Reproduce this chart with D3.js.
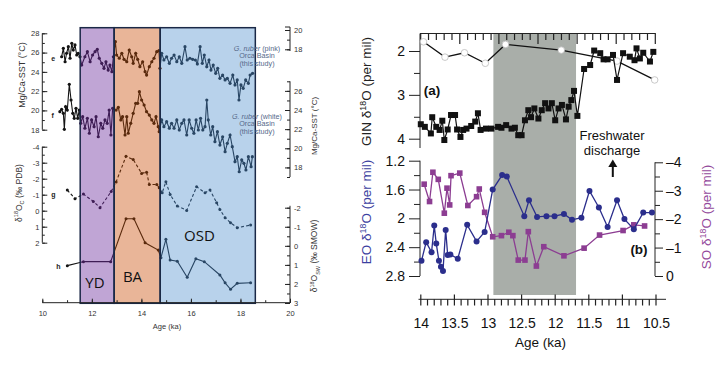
<!DOCTYPE html>
<html>
<head>
<meta charset="utf-8">
<script src="https://cdn.jsdelivr.net/npm/d3@7"></script>
<style>
body { margin: 0; background: #fff; }
svg { display: block; }
</style>
</head>
<body>
<script>
// ---- left figure: Orca Basin records, [age ka, value] ----
var pinkSst = [[10.78,25.57],[10.85,26.44],[10.92,25.05],[10.98,25.93],[11.05,26.61],[11.12,25.41],[11.19,26.96],[11.25,26.27],[11.32,26.79],[11.39,25.75],[11.45,25.93],[11.52,25.57],
  [11.59,24.71],[11.72,25.57],[11.82,26.09],[11.93,25.05],[12.03,25.75],[12.13,26.09],[12.22,26.34],[12.30,25.41],[12.40,24.89],[12.49,24.37],[12.57,25.05],[12.66,24.19],[12.73,24.71],[12.81,24.02],[12.87,25.57],
  [12.95,27.13],[13.00,25.75],[13.11,25.41],[13.21,25.93],[13.30,25.30],[13.41,25.05],[13.51,26.27],[13.61,25.57],[13.67,24.89],[13.77,25.93],[13.85,25.30],[13.94,24.54],[14.05,25.05],[14.15,24.02],[14.21,23.67],[14.32,24.54],[14.42,25.05],[14.51,25.41],[14.62,26.09],[14.71,26.20],[14.75,24.37],
  [14.82,25.93],[14.91,25.23],[15.02,25.57],[15.13,24.89],[15.22,25.41],[15.32,25.75],[15.43,25.05],[15.53,25.57],[15.63,24.89],[15.76,26.61],[15.85,25.23],[15.96,25.41],[16.07,25.30],[16.18,25.23],[16.26,24.82],[16.37,26.61],[16.46,24.89],[16.54,25.75],[16.64,24.54],[16.73,25.23],[16.81,24.19],[16.90,24.71],[17.00,23.85],[17.08,24.37],[17.17,23.33],[17.28,23.67],[17.38,23.16],[17.47,23.33],[17.58,22.81],[17.69,23.67],[17.78,22.64],[17.87,23.16],[17.94,21.08],[18.02,22.64],[18.11,22.29],[18.21,23.16],[18.32,22.81],[18.39,23.67],[18.49,23.85]];

var whiteSst = [[10.71,19.87],[10.78,20.12],[10.85,19.70],[10.89,18.04],[10.94,20.39],[11.01,20.04],[11.09,22.71],[11.16,21.08],[11.23,19.70],[11.29,19.18],[11.36,20.22],[11.43,19.18],[11.49,20.04],
  [11.55,18.66],[11.63,19.35],[11.72,18.15],[11.82,19.18],[11.90,17.63],[11.99,19.01],[12.09,18.31],[12.17,19.35],[12.26,17.27],[12.36,18.66],[12.44,18.15],[12.53,19.01],[12.62,18.66],[12.70,20.04],[12.77,17.45],[12.84,20.22],
  [12.98,20.04],[13.07,20.32],[13.17,19.01],[13.24,19.35],[13.34,17.45],[13.41,19.35],[13.47,17.63],[13.57,18.66],[13.67,19.70],[13.77,20.74],[13.85,20.74],[13.92,21.94],[14.01,21.08],[14.11,20.56],[14.21,19.87],[14.32,19.52],[14.42,19.01],[14.51,18.66],[14.59,19.35],[14.68,18.31],[14.72,17.79],
  [14.82,19.01],[14.91,18.31],[15.02,18.83],[15.13,18.15],[15.22,18.66],[15.32,18.15],[15.43,19.01],[15.53,17.97],[15.63,18.66],[15.72,19.01],[15.83,17.45],[15.93,19.01],[16.03,18.15],[16.12,17.63],[16.21,19.01],[16.30,17.97],[16.39,19.18],[16.48,17.97],[16.57,18.31],[16.64,21.08],[16.70,19.01],[16.80,17.45],[16.88,18.31],[16.97,16.76],[17.07,17.79],[17.17,16.41],[17.28,17.27],[17.38,15.72],[17.47,16.59],[17.58,17.45],[17.67,16.24],[17.78,14.68],[17.87,15.20],[17.95,13.64],[18.05,14.86],[18.14,14.51],[18.22,13.82],[18.32,15.20],[18.43,14.16],[18.48,15.20]];

var d18Oc = [[11.01,-1.29],[11.32,-0.75],[11.66,-1.04],[12.06,-0.58],[12.33,-0.19],[12.78,-1.2],[12.98,-1.8],[13.38,-3.4],[13.67,-3.2],[14.01,-2.33],[14.21,-2.41],[14.32,-1.64],[14.62,-1.64],[14.72,-1.44],
  [14.84,-1.12],[14.99,-1.81],[15.16,-1.02],[15.45,-0.29],[15.83,-0.02],[16.23,-1.5],[16.57,-1.12],[16.77,-1.29],[17.04,-0.5],[17.17,-0.08],[17.38,0.44],[17.6,0.75],[17.87,1.06],[18.41,0.9]];

var d18Osw = [[11.01,1.04],[11.66,0.83],[12.76,0.83],[13.38,-1.42],[13.7,-1.42],[14.15,-0.16],[14.68,0.22],
  [14.79,0.62],[14.99,-0.34],[15.16,0.74],[15.45,0.81],[15.85,1.65],[16.2,0.68],[16.54,0.83],[17.17,1.53],[17.38,1.94],[17.6,2.28],[17.87,1.97],[18.41,1.94]];

var zoneEdges = [10, 11.53, 12.9, 14.76, 20];
var bandEdges = [11.53, 12.9, 14.76, 18.6];
var bandNames = ["YD", "BA", "OSD"];

// ---- right figure: GIN / EO / SO d18O ----
var ginOpen = [[13.96,1.79],[13.64,2.14],[13.35,2.04],[13.04,2.28],[12.74,1.85],[11.91,1.98],[11.08,2.23],[10.52,2.66]];

var ginBlack = [[14.0,3.67],[13.94,3.73],[13.85,3.88],[13.83,3.51],[13.77,3.73],[13.72,3.80],[13.68,3.59],[13.65,4.03],[13.60,3.79],[13.55,3.46],[13.49,3.46],[13.46,3.79],[13.41,3.96],[13.37,3.80],[13.32,3.77],[13.25,3.71],[13.19,3.61],[13.15,3.42],[13.11,3.80],[13.03,3.77],
  [12.95,3.77],[12.85,3.73],[12.80,3.75],[12.73,3.69],[12.65,3.77],[12.60,3.75],[12.55,3.92],[12.50,3.92],[12.45,3.58],[12.40,3.35],[12.36,3.51],[12.31,3.31],[12.25,3.54],[12.20,3.35],[12.15,3.19],[12.10,3.31],[12.05,3.19],[12.00,3.58],[11.95,3.31],[11.90,3.23],
  [11.84,3.56],[11.80,3.27],[11.76,3.12],[11.72,2.91],[11.67,3.48],[11.57,2.41],[11.48,2.32],[11.42,1.99],[11.33,2.05],[11.28,2.19],[11.22,2.19],[11.14,2.09],[11.08,2.66],[10.99,2.05],[10.89,2.13],[10.82,2.21],[10.79,1.94],[10.74,2.17],[10.69,2.04],[10.59,2.24],[10.54,2.02]];

var eoBlue = [[13.99,2.59],[13.92,2.33],[13.84,2.47],[13.80,2.10],[13.77,2.35],[13.73,2.59],[13.70,2.67],[13.67,2.73],[13.63,2.16],[13.60,2.51],[13.56,2.50],[13.45,2.56],[13.31,2.09],[13.17,2.32],[13.05,2.19],
  [12.93,1.60],[12.79,1.40],[12.72,1.42],[12.46,1.97],[12.39,1.75],[12.27,1.98],[12.13,1.97],[12.01,1.97],[11.87,1.94],[11.75,2.02],[11.61,1.99],[11.49,1.62],[11.35,1.85],[11.22,2.12],[11.08,1.75],[10.97,2.01],[10.83,2.15],[10.69,1.92],[10.56,1.92]];

var soPurple = [[13.95,-3.23],[13.87,-2.62],[13.82,-3.65],[13.74,-3.40],[13.65,-2.21],[13.61,-3.09],[13.57,-2.50],[13.55,-3.53],[13.42,-3.62],[13.30,-2.48],[13.17,-2.79],[13.13,-3.06],[13.05,-2.24],
  [12.93,-1.38],[12.80,-1.42],[12.69,-1.54],[12.63,-1.42],[12.55,-0.56],[12.45,-0.56],[12.40,-1.56],[12.28,-0.35],[12.17,-1.03],[11.87,-0.71],[11.57,-0.98],[11.34,-1.44],[10.99,-1.60],[10.83,-1.80],[10.67,-1.76]];

var shadeAges = [12.92, 11.69];
var ageTickLabels = ["14", "13.5", "13", "12.5", "12", "11.5", "11", "10.5"];

var font = "'Liberation Sans', Arial, sans-serif";
var plain = d => String(d);

var svg = d3.select("body").append("svg")
  .attr("width", 724)
  .attr("height", 367)
  .attr("font-family", font);
var defs = svg.append("defs");

function drawAxis(axis, tx, ty, size, color) {
  var g = svg.append("g").attr("transform", `translate(${tx},${ty})`).call(axis);
  g.select(".domain").remove();
  g.attr("font-family", font).attr("font-size", size);
  g.selectAll("text").attr("fill", color);
  g.selectAll("line").attr("stroke", "#222");
  return g;
}
function vline(x, y1, y2) {
  svg.append("line").attr("x1", x).attr("x2", x).attr("y1", y1).attr("y2", y2)
    .attr("stroke", "#222").attr("stroke-width", 1);
}
function hline(y, x1, x2) {
  svg.append("line").attr("x1", x1).attr("x2", x2).attr("y1", y).attr("y2", y)
    .attr("stroke", "#222").attr("stroke-width", 1);
}
// text with a raised "18", and optional subscript after the O
function isoText(g, pre, sub, post, size) {
  var t = g.append("text");
  t.append("tspan").text(pre);
  t.append("tspan").attr("dy", -size * 0.4).attr("font-size", size * 0.65).text("18");
  t.append("tspan").attr("dy", size * 0.4).text("O");
  if (sub) {
    t.append("tspan").attr("dy", size * 0.3).attr("font-size", size * 0.65).text(sub);
    t.append("tspan").attr("dy", -size * 0.3).text(post);
  } else {
    t.append("tspan").text(post);
  }
  return t;
}

// ================= LEFT FIGURE =================
var xL = d3.scaleLinear().domain([10, 20]).range([42.3, 290]);
var ySst = d3.scaleLinear().domain([18, 28]).range([129.7, 33.3]);
var yOc = d3.scaleLinear().domain([-4, 2]).range([146.7, 242.7]);
var ySw = d3.scaleLinear().domain([-2, 3]).range([207.7, 303]);
var yPink = d3.scaleLinear().domain([18, 20]).range([49.3, 30]);
var yWhite = d3.scaleLinear().domain([17, 27]).range([177, 81.3]);

var bandFill = ["#c0a5d5", "#e9b598", "#b8d2eb"];
var zoneCol = ["#141414", "#3e1d55", "#5a2a0d", "#294664"];

var bandTop = 27.7, bandBottom = 303.3;
svg.selectAll(".band")
  .data(bandNames)
  .enter()
  .append("rect")
  .attr("x", (d, i) => xL(bandEdges[i]))
  .attr("y", bandTop)
  .attr("width", (d, i) => xL(bandEdges[i + 1]) - xL(bandEdges[i]))
  .attr("height", bandBottom - bandTop)
  .attr("fill", (d, i) => bandFill[i]);

zoneEdges.slice(0, 4).forEach(function(z, i) {
  defs.append("clipPath").attr("id", "zone" + i)
    .append("rect")
    .attr("x", xL(zoneEdges[i])).attr("y", 0)
    .attr("width", xL(zoneEdges[i + 1]) - xL(zoneEdges[i])).attr("height", 367);
});

function zoneOf(a) {
  for (var i = 0; i < 4; i++) if (a < zoneEdges[i + 1]) return i;
  return 3;
}

function drawSeries(data, y, dash, r) {
  var line = d3.line().x(d => xL(d[0])).y(d => y(d[1]));
  for (var i = 0; i < 4; i++) {
    svg.append("path")
      .datum(data)
      .attr("clip-path", `url(#zone${i})`)
      .attr("d", line)
      .attr("fill", "none")
      .attr("stroke", zoneCol[i])
      .attr("stroke-width", 1.1)
      .attr("stroke-dasharray", dash);
  }
  svg.append("g").selectAll("circle")
    .data(data)
    .enter()
    .append("circle")
    .attr("cx", d => xL(d[0]))
    .attr("cy", d => y(d[1]))
    .attr("r", r)
    .attr("fill", d => zoneCol[zoneOf(d[0])]);
}

drawSeries(pinkSst, ySst, null, 1.6);
drawSeries(whiteSst, ySst, null, 1.6);
drawSeries(d18Oc, yOc, "3,2.2", 1.5);
drawSeries(d18Osw, ySw, null, 1.5);

// band outlines on top
svg.selectAll(".bandEdge")
  .data(bandNames)
  .enter()
  .append("rect")
  .attr("x", (d, i) => xL(bandEdges[i]))
  .attr("y", bandTop)
  .attr("width", (d, i) => xL(bandEdges[i + 1]) - xL(bandEdges[i]))
  .attr("height", bandBottom - bandTop)
  .attr("fill", "none")
  .attr("stroke", "#1b2947")
  .attr("stroke-width", 1.5);

var bandLabelPos = [[95, 288], [132.5, 281.5], [199.5, 241]];
svg.selectAll(".bandName")
  .data(bandNames)
  .enter()
  .append("text")
  .attr("x", (d, i) => bandLabelPos[i][0])
  .attr("y", (d, i) => bandLabelPos[i][1])
  .attr("text-anchor", "middle")
  .attr("font-family", "'Open Sans', 'Noto Sans', sans-serif")
  .attr("font-size", 15)
  .attr("fill", "#111")
  .text(d => d);

// left axes
var tc = "#333";
drawAxis(d3.axisLeft(ySst).tickValues(d3.range(18, 29, 1)).tickSizeInner(-2.5).tickSizeOuter(0).tickFormat(""), xL(10), 0, 7.5, tc);
drawAxis(d3.axisLeft(ySst).tickValues(d3.range(18, 29, 2)).tickSizeInner(-5).tickSizeOuter(0).tickPadding(3).tickFormat(plain), xL(10), 0, 7.5, tc);
vline(xL(10), ySst(28), ySst(18));

drawAxis(d3.axisLeft(yOc).tickValues(d3.range(-4, 2.1, 0.5)).tickSizeInner(-2.5).tickSizeOuter(0).tickFormat(""), xL(10), 0, 7.5, tc);
drawAxis(d3.axisLeft(yOc).tickValues(d3.range(-4, 3, 1)).tickSizeInner(-5).tickSizeOuter(0).tickPadding(3).tickFormat(plain), xL(10), 0, 7.5, tc);
vline(xL(10), yOc(-4), yOc(2));

drawAxis(d3.axisBottom(xL).tickValues(d3.range(10, 21, 1)).tickSizeInner(-2.5).tickSizeOuter(0).tickFormat(""), 0, 302.7, 7.5, tc);
drawAxis(d3.axisBottom(xL).tickValues(d3.range(10, 21, 2)).tickSizeInner(-4).tickSizeOuter(0).tickPadding(8).tickFormat(plain), 0, 302.7, 7.5, tc);
hline(302.7, xL(10), xL(20));

// right side axes of left figure
drawAxis(d3.axisRight(yPink).tickValues([18, 19, 20]).tickSizeInner(-3).tickSizeOuter(0).tickFormat(""), xL(20), 0, 7.5, tc);
drawAxis(d3.axisRight(yPink).tickValues([18, 20]).tickSizeInner(-5).tickSizeOuter(0).tickPadding(4).tickFormat(plain), xL(20), 0, 7.5, tc);
vline(xL(20), 27, 51);
svg.append("line").attr("x1", xL(20) - 5).attr("x2", xL(20)).attr("y1", 27).attr("y2", 27).attr("stroke", "#222");

drawAxis(d3.axisRight(yWhite).tickValues(d3.range(17, 28, 1)).tickSizeInner(-3).tickSizeOuter(0).tickFormat(""), xL(20), 0, 7.5, tc);
drawAxis(d3.axisRight(yWhite).tickValues(d3.range(18, 27, 2)).tickSizeInner(-5).tickSizeOuter(0).tickPadding(4).tickFormat(plain), xL(20), 0, 7.5, tc);
vline(xL(20), yWhite(27), yWhite(17));

drawAxis(d3.axisRight(ySw).tickValues(d3.range(-2, 3.1, 0.5)).tickSizeInner(-3).tickSizeOuter(0).tickFormat(""), xL(20), 0, 7.5, tc);
drawAxis(d3.axisRight(ySw).tickValues(d3.range(-2, 4, 1)).tickSizeInner(-5).tickSizeOuter(0).tickPadding(4).tickFormat(plain), xL(20), 0, 7.5, tc);
vline(xL(20), ySw(-2.1), ySw(3));

// left figure titles and labels
svg.append("text")
  .attr("transform", "translate(24.5,75) rotate(-90)")
  .attr("text-anchor", "middle").attr("font-size", 9).attr("fill", tc)
  .text("Mg/Ca-SST (°C)");
isoText(svg, "δ", "C", " (‰ PDB)", 8.5)
  .attr("transform", "translate(21.5,193) rotate(-90)")
  .attr("text-anchor", "middle").attr("font-size", 8.5).attr("fill", tc);
svg.append("text")
  .attr("transform", "translate(316.5,126) rotate(-90)")
  .attr("text-anchor", "middle").attr("font-size", 8).attr("fill", tc)
  .text("Mg/Ca-SST (°C)");
isoText(svg, "δ", "SW", " (‰ SMOW)", 8.5)
  .attr("transform", "translate(317,256) rotate(-90)")
  .attr("text-anchor", "middle").attr("font-size", 8.5).attr("fill", tc);
svg.append("text")
  .attr("x", 167).attr("y", 329)
  .attr("text-anchor", "middle").attr("font-size", 7.5).attr("fill", tc)
  .text("Age (ka)");

var letters = [["e", 53.3, 61], ["f", 52.7, 118], ["g", 53.5, 196.5], ["h", 58.3, 269]];
svg.selectAll(".letter")
  .data(letters)
  .enter()
  .append("text")
  .attr("x", d => d[1]).attr("y", d => d[2])
  .attr("text-anchor", "middle").attr("font-size", 7).attr("font-weight", "bold").attr("fill", "#222")
  .text(d => d[0]);

function rubberNote(kind, y0) {
  var t = svg.append("g").attr("font-size", 7.2).attr("fill", "#56698a").attr("text-anchor", "middle");
  var l1 = t.append("text").attr("x", 257).attr("y", y0);
  l1.append("tspan").attr("font-style", "italic").text("G. ruber");
  l1.append("tspan").text(" (" + kind + ")");
  t.append("text").attr("x", 257).attr("y", y0 + 7.5).text("Orca Basin");
  t.append("text").attr("x", 257).attr("y", y0 + 15).text("(this study)");
}
rubberNote("pink", 50.5);
rubberNote("white", 118.5);

// ================= RIGHT FIGURE =================
var xR = d3.scaleLinear().domain([14, 10.5]).range([420.8, 656]);
var xTop = d3.scaleLinear().domain([14, 11]).range([420.7, 655.3]);
var yGin = d3.scaleLinear().domain([2, 4]).range([51, 138.7]);
var yEo = d3.scaleLinear().domain([1.2, 2.8]).range([160.7, 276]);
var ySo = d3.scaleLinear().domain([-4, 0]).range([162.3, 276]);

svg.append("rect")
  .attr("x", xR(shadeAges[0]))
  .attr("y", 34)
  .attr("width", xR(shadeAges[1]) - xR(shadeAges[0]))
  .attr("height", 261)
  .attr("fill", "#a9aea9");

// top tick axis
var topTicks = d3.range(0, 31).map(i => 14 - i * 0.1);
svg.append("g").selectAll("line")
  .data(topTicks)
  .enter()
  .append("line")
  .attr("x1", d => xTop(d)).attr("x2", d => xTop(d))
  .attr("y1", 33.5)
  .attr("y2", (d, i) => i % 5 === 0 ? 44 : 40)
  .attr("stroke", "#222").attr("stroke-width", 1.2);
svg.append("line").attr("x1", 420).attr("x2", xTop(11) + 0.5).attr("y1", 33.5).attr("y2", 33.5)
  .attr("stroke", "#222").attr("stroke-width", 1.2);

// GIN axis
var rc = "#111";
drawAxis(d3.axisLeft(yGin).tickValues([2.5, 3.5]).tickSize(6).tickFormat(""), 420, 0, 14, rc);
drawAxis(d3.axisLeft(yGin).tickValues([2, 3, 4]).tickSize(11).tickPadding(4).tickFormat(plain), 420, 0, 14, rc);
vline(420, 33.5, 148);

// EO axis
drawAxis(d3.axisLeft(yEo).tickValues([1.4, 1.8, 2.2, 2.6]).tickSize(6).tickFormat(""), 420, 0, 14, rc);
drawAxis(d3.axisLeft(yEo).tickValues([1.2, 1.6, 2, 2.4, 2.8]).tickSize(11).tickPadding(4).tickFormat(plain), 420, 0, 14, rc);
vline(420, yEo(1.2), yEo(2.8));

// SO axis
drawAxis(d3.axisRight(ySo).tickValues([-3.5, -2.5, -1.5, -0.5]).tickSize(5).tickFormat(""), 655, 0, 14, rc);
drawAxis(d3.axisRight(ySo).tickValues([-4, -3, -2, -1, 0]).tickSize(8).tickPadding(3).tickFormat(d => d === 0 ? "0" : "\u2013" + Math.abs(d)), 655, 0, 14, rc);
vline(655, ySo(-4), ySo(0));

// bottom age axis
var minorAges = d3.range(0, 36).map(i => 14 - i * 0.1);
svg.append("g").selectAll("line")
  .data(minorAges)
  .enter()
  .append("line")
  .attr("x1", d => xR(d)).attr("x2", d => xR(d))
  .attr("y1", (d, i) => i % 5 === 0 ? 294.5 : 299.3)
  .attr("y2", 305.5)
  .attr("stroke", "#222").attr("stroke-width", 1.2);
drawAxis(d3.axisBottom(xR).tickValues(d3.range(0, 8).map(i => 14 - i * 0.5)).tickSize(0).tickPadding(19)
  .tickFormat((d, i) => ageTickLabels[i]), 0, 299.3, 14, rc);
hline(299.3, 418.5, 666);
svg.append("text").attr("x", 540.5).attr("y", 347).attr("text-anchor", "middle")
  .attr("font-size", 13.5).attr("fill", rc).text("Age (ka)");

// (a) GIN series
var lineR = function(y) { return d3.line().x(d => xR(d[0])).y(d => y(d[1])); };
svg.append("path").datum(ginOpen).attr("d", lineR(yGin))
  .attr("fill", "none").attr("stroke", "#111").attr("stroke-width", 1.3);
svg.append("g").selectAll("circle")
  .data(ginOpen)
  .enter()
  .append("circle")
  .attr("cx", d => xR(d[0])).attr("cy", d => yGin(d[1])).attr("r", 3.3)
  .attr("fill", "#fff").attr("stroke", "#bbb").attr("stroke-width", 0.8);

svg.append("path").datum(ginBlack).attr("d", lineR(yGin))
  .attr("fill", "none").attr("stroke", "#111").attr("stroke-width", 1.2);
svg.append("g").selectAll("rect")
  .data(ginBlack)
  .enter()
  .append("rect")
  .attr("x", d => xR(d[0]) - 3).attr("y", d => yGin(d[1]) - 3)
  .attr("width", 6).attr("height", 6)
  .attr("fill", "#111");

// (b) SO and EO series
var soCol = "#8c3d92", eoCol = "#2b2e8c";
svg.append("path").datum(soPurple).attr("d", lineR(ySo))
  .attr("fill", "none").attr("stroke", soCol).attr("stroke-width", 1.3);
svg.append("g").selectAll("rect")
  .data(soPurple)
  .enter()
  .append("rect")
  .attr("x", d => xR(d[0]) - 2.8).attr("y", d => ySo(d[1]) - 2.8)
  .attr("width", 5.6).attr("height", 5.6)
  .attr("fill", soCol);

svg.append("path").datum(eoBlue).attr("d", lineR(yEo))
  .attr("fill", "none").attr("stroke", eoCol).attr("stroke-width", 1.3);
svg.append("g").selectAll("circle")
  .data(eoBlue)
  .enter()
  .append("circle")
  .attr("cx", d => xR(d[0])).attr("cy", d => yEo(d[1])).attr("r", 3)
  .attr("fill", eoCol);

// right figure labels
isoText(svg, "GIN δ", null, " (per mil)", 13.5)
  .attr("transform", "translate(371,91.5) rotate(-90)")
  .attr("text-anchor", "middle").attr("font-size", 13.5).attr("fill", "#222");
isoText(svg, "EO δ", null, " (per mil)", 13.5)
  .attr("transform", "translate(371,212) rotate(-90)")
  .attr("text-anchor", "middle").attr("font-size", 13.5).attr("fill", "#3b40a0");
isoText(svg, "SO δ", null, " (per mil)", 13.5)
  .attr("transform", "translate(711,217) rotate(-90)")
  .attr("text-anchor", "middle").attr("font-size", 13.5).attr("fill", "#944a9c");

svg.append("text").attr("x", 432).attr("y", 95).attr("text-anchor", "middle")
  .attr("font-size", 13.5).attr("font-weight", "bold").attr("fill", "#111").text("(a)");
svg.append("text").attr("x", 639).attr("y", 254).attr("text-anchor", "middle")
  .attr("font-size", 13.5).attr("font-weight", "bold").attr("fill", "#111").text("(b)");

svg.append("text").attr("x", 612).attr("y", 140).attr("text-anchor", "middle")
  .attr("font-size", 13).attr("fill", "#111").text("Freshwater");
svg.append("text").attr("x", 612).attr("y", 155).attr("text-anchor", "middle")
  .attr("font-size", 13).attr("fill", "#111").text("discharge");
svg.append("line").attr("x1", 612.8).attr("x2", 612.8).attr("y1", 177).attr("y2", 165)
  .attr("stroke", "#111").attr("stroke-width", 2);
svg.append("path").attr("d", "M608.3,167 L612.8,159.5 L617.3,167 Z").attr("fill", "#111");
</script>
</body>
</html>
